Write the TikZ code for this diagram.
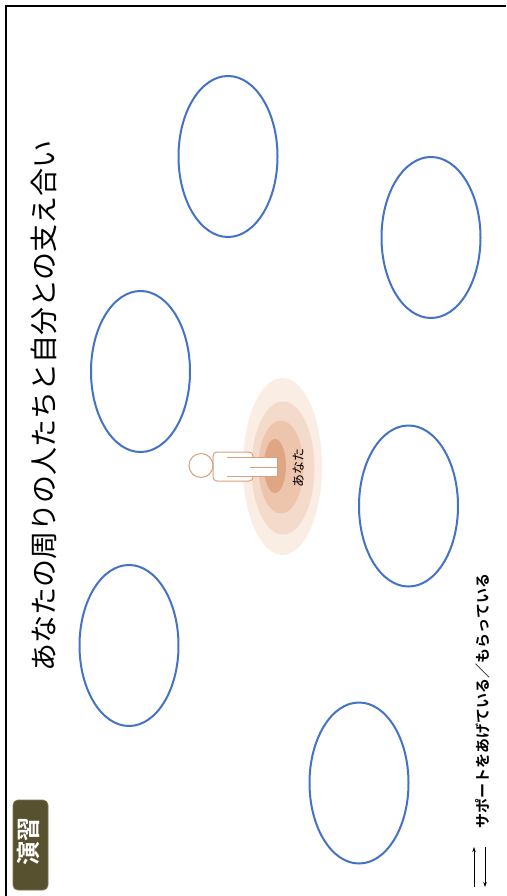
\documentclass[tikz,border=0pt]{standalone}
\usepackage{fontspec}
\newfontfamily\jpfont{Noto Sans CJK JP}
\newfontfamily\jpbold{Noto Sans CJK JP Bold}
\usetikzlibrary{shapes.geometric,arrows.meta}
\definecolor{ringblue}{HTML}{4472C4}
\definecolor{ringA}{HTML}{FAEDE4}
\definecolor{ringB}{HTML}{F4DACA}
\definecolor{ringC}{HTML}{EDC5AD}
\definecolor{ringD}{HTML}{E0A583}
\definecolor{skin}{HTML}{D9A07E}
\definecolor{badge}{HTML}{58512F}
\definecolor{badgeedge}{HTML}{7A7352}
\tikzset{
  blob/.style={ellipse, draw=ringblue, line width=2pt, minimum width=99pt, minimum height=161pt, inner sep=0pt},
  ring/.style={ellipse, draw=none, inner sep=0pt},
  figline/.style={draw=skin, line width=1pt, fill=white},
  legendarrow/.style={-{Stealth[length=5pt,width=3.5pt]}, line width=0.8pt}
}
\begin{document}
\begin{tikzpicture}[x=1pt,y=-1pt]
\useasboundingbox (0,0) rectangle (506,896);
\fill[white] (0,0) rectangle (506,896);

% frame
\draw[line width=2.5pt] (6,896) -- (6,6) -- (506,6);

% title
\node[rotate=90, font=\jpfont\fontsize{28}{30}\selectfont] (title) at (44,406) {あなたの周りの人たちと自分との支え合い};

% exercise badge
\node[rounded corners=5pt, fill=badge, draw=badgeedge, line width=0.8pt, minimum width=35pt, minimum height=90pt, inner sep=0pt] (badgebox) at (30.5,845) {};
\node[rotate=90, text=white, font=\jpbold\fontsize{24}{26}\selectfont] (badgetext) at (28,841) {演習};

% empty ellipses for the surrounding people
\node[blob] (p1) at (228,156.5) {};
\node[blob] (p2) at (431,237.5) {};
\node[blob] (p3) at (140.5,371.5) {};
\node[blob] (p4) at (129,645.5) {};
\node[blob] (p5) at (359,783) {};
\node[blob] (p6) at (408.5,506) {};

% target rings around "you"
\node[ring, fill=ringA, minimum width=79pt, minimum height=177pt] (r1) at (282.5,466.5) {};
\node[ring, fill=ringB, minimum width=63pt, minimum height=133pt] (r2) at (283,468) {};
\node[ring, fill=ringC, minimum width=45pt, minimum height=93pt] (r3) at (281,467) {};
\node[ring, fill=ringD, minimum width=22pt, minimum height=54pt] (r4) at (275,466) {};

% person seen from above
\draw[figline, rounded corners=4pt] (213,452) rectangle (253,481);
\draw[figline] (227,457) -- (277,457) -- (277,476) -- (227,476);
\draw[skin, line width=1pt] (250,467) -- (277,467);
\draw[figline] (201,465.5) circle [radius=12];

\node[rotate=90, font=\jpfont\fontsize{13}{14}\selectfont] (you) at (299,468) {あなた};

% legend
\node[rotate=90, font=\jpbold\fontsize{15}{16}\selectfont] (legend) at (483,701) {サポートをあげている／もらっている};
\coordinate (upA) at (474,887);
\coordinate (upB) at (474,847);
\coordinate (dnA) at (485,847);
\coordinate (dnB) at (485,887);
\draw[legendarrow] (upA) -- (upB);
\draw[legendarrow] (dnA) -- (dnB);
\end{tikzpicture}
\end{document}
